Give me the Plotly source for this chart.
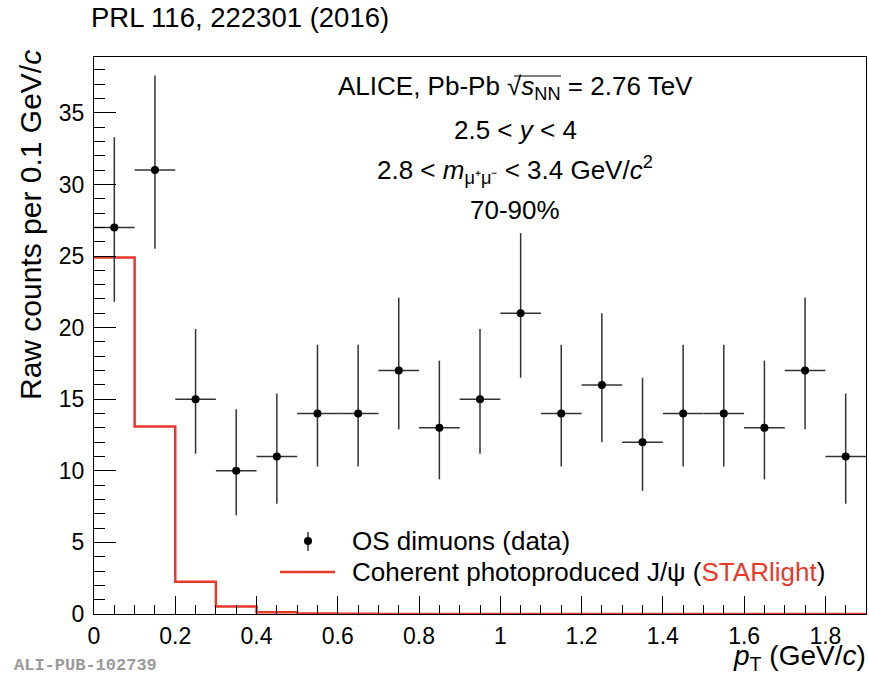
import plotly.graph_objects as go

# ---- data ----
bin_edges = [0.0, 0.1, 0.2, 0.3, 0.4, 0.5, 0.6, 0.7, 0.8, 0.9, 1.0,
             1.1, 1.2, 1.3, 1.4, 1.5, 1.6, 1.7, 1.8, 1.9]
pt_centers = [0.05, 0.15, 0.25, 0.35, 0.45, 0.55, 0.65, 0.75, 0.85, 0.95,
              1.05, 1.15, 1.25, 1.35, 1.45, 1.55, 1.65, 1.75, 1.85]
counts = [27, 31, 15, 10, 11, 14, 14, 17, 13, 15, 21, 14, 16, 12, 14, 14, 13, 17, 11]
err_up = [6.3, 6.6, 4.9, 4.3, 4.4, 4.8, 4.8, 5.1, 4.7, 4.9, 5.6, 4.8, 5.0, 4.5, 4.8, 4.8, 4.7, 5.1, 4.4]
err_dn = [5.2, 5.5, 3.8, 3.1, 3.3, 3.7, 3.7, 4.1, 3.6, 3.8, 4.5, 3.7, 4.0, 3.4, 3.7, 3.7, 3.6, 4.1, 3.3]
half_bin = [0.05] * 19
starlight = [24.9, 13.1, 2.25, 0.52, 0.12, 0.03, 0.01, 0.0, 0.0, 0.0,
             0.0, 0.0, 0.0, 0.0, 0.0, 0.0, 0.0, 0.0, 0.0]

RED = "#e8392b"
FONT = "Liberation Sans, Arial, Helvetica, sans-serif"

fig = go.Figure()

# STARlight histogram as steps
fig.add_trace(go.Scatter(
    x=bin_edges,
    y=starlight + [starlight[-1]],
    mode="lines",
    line=dict(color=RED, width=2.5, shape="hv"),
    showlegend=False,
    hoverinfo="skip",
))

# data points
fig.add_trace(go.Scatter(
    x=pt_centers,
    y=counts,
    mode="markers",
    marker=dict(color="black", size=8),
    error_y=dict(type="data", symmetric=False, array=err_up, arrayminus=err_dn,
                 color="#333333", thickness=1.5, width=0),
    error_x=dict(type="data", array=half_bin, color="#333333", thickness=1.5, width=0),
    showlegend=False,
))

L, T, R, B = 94, 57, 869 - 866, 677 - 614
W = 869 - L - R
H = 677 - T - B

def px(xp):
    return (xp - L) / W

def py(yp):
    return (677 - B - yp) / H

axis_common = dict(
    showline=True, linecolor="black", linewidth=1, mirror=True,
    ticks="inside", tickcolor="black", tickwidth=1,
    showgrid=False, zeroline=False,
    tickfont=dict(family=FONT, size=23, color="black"),
)

fig.update_xaxes(range=[0, 1.9], dtick=0.2, tick0=0, ticklen=18, ticklabelstandoff=1,
                 minor=dict(ticks="inside", dtick=0.05, ticklen=9, tickcolor="black", showgrid=False),
                 **axis_common)
fig.update_yaxes(range=[0, 38.9], dtick=5, tick0=0, ticklen=22, ticklabelstandoff=4,
                 minor=dict(ticks="inside", dtick=1, ticklen=11, tickcolor="black", showgrid=False),
                 **axis_common)

ann = []
def text(x, y, s, size, xanchor="center", yanchor="middle", color="black", angle=0, family=FONT):
    ann.append(dict(x=x, y=y, xref="paper", yref="paper", text=s, showarrow=False,
                    xanchor=xanchor, yanchor=yanchor, textangle=angle,
                    font=dict(family=family, size=size, color=color)))

text(px(31), py(48), "Raw counts per 0.1 GeV/<i>c</i>", 30, yanchor="top", angle=-90)
text(px(868), py(677), "<i>p</i><sub>T</sub> (GeV/<i>c</i>)", 28, xanchor="right", yanchor="bottom")
text(px(89), py(18), "PRL 116, 222301 (2016)", 27.5, xanchor="left")
text(px(12), py(665), "<b>ALI-PUB-102739</b>", 17, xanchor="left",
     color="#9a9a9a", family="Liberation Mono, Courier New, monospace")

cx = px(515)
text(cx, py(88), "ALICE, Pb-Pb √<i>s</i><sub>NN</sub> = 2.76 TeV", 26)
text(cx, py(130), "2.5 &lt; <i>y</i> &lt; 4", 26)
text(cx, py(170), "2.8 &lt; <i>m</i><sub>μ⁺μ⁻</sub> &lt; 3.4 GeV/<i>c</i><sup>2</sup>", 26)
text(cx, py(210), "70-90%", 26)

# legend
text(px(350), py(541), "OS dimuons (data)", 26, xanchor="left")
text(px(350), py(572), "Coherent photoproduced J/ψ (<span style='color:%s'>STARlight</span>)" % RED,
     26, xanchor="left")

shapes = [
    dict(type="line", xref="paper", yref="paper", x0=px(308), x1=px(308),
         y0=py(532), y1=py(551), line=dict(color="#333333", width=1.5)),
    dict(type="circle", xref="paper", yref="paper", x0=px(304), x1=px(312),
         y0=py(537), y1=py(545), fillcolor="black", line=dict(color="black", width=0)),
    dict(type="line", xref="paper", yref="paper", x0=px(280), x1=px(335),
         y0=py(572), y1=py(572), line=dict(color=RED, width=2.5)),
    # overline of the square root
    dict(type="line", xref="paper", yref="paper", x0=px(514), x1=px(561),
         y0=py(76), y1=py(76), line=dict(color="black", width=1.2)),
]

fig.update_layout(
    width=869, height=677,
    margin=dict(l=L, r=R, t=T, b=B),
    paper_bgcolor="white", plot_bgcolor="white",
    annotations=ann, shapes=shapes,
    font=dict(family=FONT, color="black"),
)

fig.write_html("out.html", config={"displayModeBar": False},
               post_script="document.body.style.margin='0px';document.body.style.overflow='hidden';")
